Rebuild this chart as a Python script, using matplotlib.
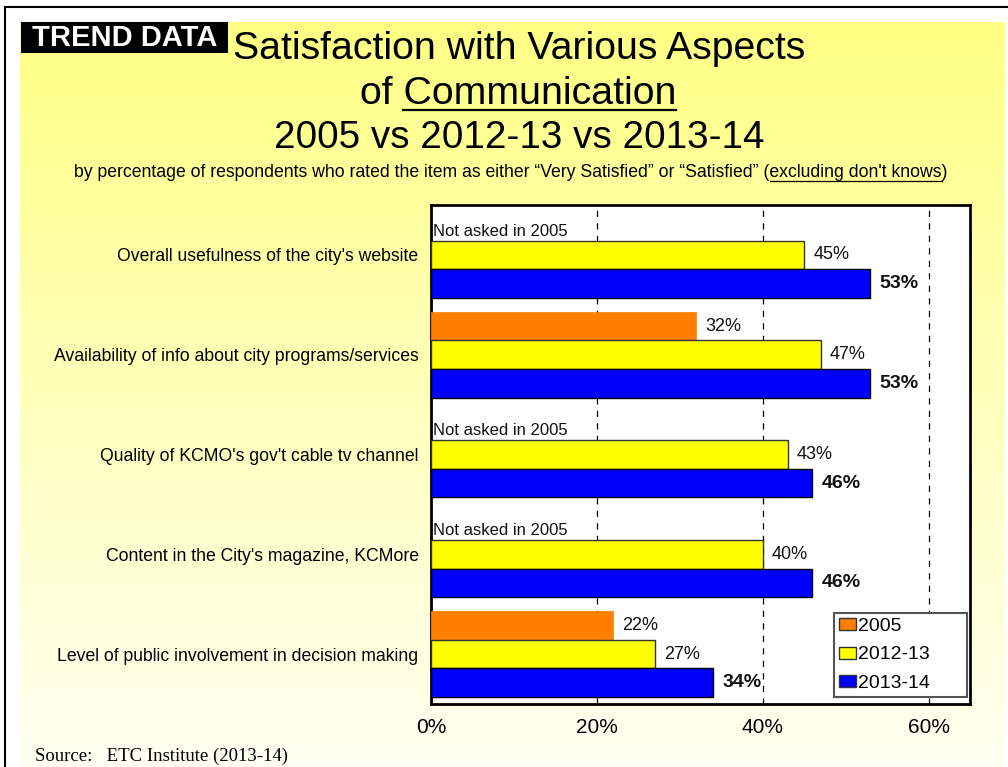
import numpy as np
import matplotlib
matplotlib.use("Agg")
import matplotlib.pyplot as plt
from matplotlib.patches import Patch, Rectangle
from matplotlib.lines import Line2D

plt.rcParams['font.family'] = ['Liberation Sans', 'DejaVu Sans']

categories = [
    "Overall usefulness of the city's website",
    "Availability of info about city programs/services",
    "Quality of KCMO's gov't cable tv channel",
    "Content in the City's magazine, KCMore",
    "Level of public involvement in decision making",
]
vals_2005 = [np.nan, 32, np.nan, np.nan, 22]
vals_2012_13 = [45, 47, 43, 40, 27]
vals_2013_14 = [53, 53, 46, 46, 34]
series_names = ["2005", "2012-13", "2013-14"]
tick_vals = [0, 20, 40, 60]

W, H = 1008, 767
fig = plt.figure(figsize=(W / 100, H / 100), dpi=100)
fig.patch.set_facecolor('white')


def fx(x):
    return x / W


def fy(y):
    return 1 - y / H


# yellow backdrop, fading toward the bottom
bg = fig.add_axes([fx(20), 0, fx(1005) - fx(20), fy(22)])
grad = np.linspace(0, 1, 256).reshape(-1, 1)
top = np.array([1.0, 1.0, 0.52])
bottom = np.array([1.0, 1.0, 0.95])
img = top + (bottom - top) * grad[..., None]
bg.imshow(img.reshape(256, 1, 3), aspect='auto', extent=[0, 1, 0, 1])
bg.set_axis_off()

# slide frame
fig.add_artist(Line2D([fx(5), 1], [fy(7), fy(7)], color='black', lw=1.5))
fig.add_artist(Line2D([fx(5), fx(5)], [fy(7), 0], color='black', lw=1.5))

ax = fig.add_axes([fx(431), fy(704), fx(970) - fx(431), fy(205) - fy(704)])
ax.set_facecolor('white')

y = np.arange(len(categories))
h = 0.287
ax.barh(y - h, vals_2005, height=h, color='#FF8000', edgecolor='#FF8000',
        linewidth=0.5, zorder=3, label=series_names[0])
ax.barh(y, vals_2012_13, height=h, color='#FFFF00', edgecolor='#333333',
        linewidth=1, zorder=3, label=series_names[1])
ax.barh(y + h, vals_2013_14, height=h, color='#0000FF', edgecolor='black',
        linewidth=1, zorder=3, label=series_names[2])

for i in range(len(categories)):
    v = vals_2005[i]
    if np.isnan(v):
        ax.text(0.3, y[i] - h / 2 - 0.02, "Not asked in 2005", fontsize=12,
                ha='left', va='bottom', color='#111111', zorder=4)
    else:
        ax.text(v + 1.1, y[i] - h, f"{v:.0f}%", fontsize=13,
                ha='left', va='center', color='#111111', zorder=4)
    ax.text(vals_2012_13[i] + 1.1, y[i], f"{vals_2012_13[i]}%", fontsize=13,
            ha='left', va='center', color='#111111', zorder=4)
    ax.text(vals_2013_14[i] + 1.1, y[i] + h, f"{vals_2013_14[i]}%", fontsize=14,
            ha='left', va='center', fontweight='bold', color='#111111', zorder=4)

ax.set_xlim(0, 65)
ax.set_ylim(len(categories) - 0.5, -0.5)
ax.set_xticks(tick_vals)
ax.set_xticklabels([f"{t}%" for t in tick_vals], fontsize=15)
ax.set_yticks(y)
ax.set_yticklabels(categories, fontsize=12.7)
ax.tick_params(axis='x', length=0, pad=10)
ax.tick_params(axis='y', length=0, pad=9)
ax.set_axisbelow(True)
ax.xaxis.grid(True, color='black', linewidth=0.9, linestyle=(0, (5, 5)))
for s in ax.spines.values():
    s.set_linewidth(2)
    s.set_color('black')

handles = [Patch(facecolor='#FF8000', edgecolor='#333333', linewidth=1),
           Patch(facecolor='#FFFF00', edgecolor='#333333', linewidth=1),
           Patch(facecolor='#0000FF', edgecolor='#333333', linewidth=1)]
leg = ax.legend(handles, series_names, loc='lower left',
                bbox_to_anchor=(0.7477, 0.014, 0.2468, 0.17), mode='expand',
                fontsize=14, frameon=True, fancybox=False, framealpha=1,
                edgecolor='#555555', handlelength=0.88, handleheight=0.57,
                handletextpad=0.1, labelspacing=0.6, borderpad=0.25,
                borderaxespad=0)
leg.get_frame().set_linewidth(1.5)
leg.set_zorder(5)

# heading
fig.add_artist(Rectangle((fx(21), fy(53)), fx(228) - fx(21), fy(22) - fy(53),
                         facecolor='black', edgecolor='none'))
fig.text(fx(124.5), fy(38), "TREND DATA", fontsize=21, fontweight='bold',
         color='white', ha='center', va='center')
fig.text(fx(519.5), fy(59), "Satisfaction with Various Aspects", fontsize=28.3,
         ha='center', va='baseline')
line2 = fig.text(fx(518), fy(104), "of Communication", fontsize=28.3,
                 ha='center', va='baseline')
fig.text(fx(519), fy(148), "2005 vs 2012-13 vs 2013-14", fontsize=27.8,
         ha='center', va='baseline')
sub = fig.text(fx(511), fy(177),
               "by percentage of respondents who rated the item as either "
               "\u201cVery Satisfied\u201d or \u201cSatisfied\u201d "
               "(excluding don't knows)",
               fontsize=12.7, ha='center', va='baseline')
fig.text(fx(35), fy(761), "Source:   ETC Institute (2013-14)", fontsize=13.5,
         family=['Liberation Serif', 'DejaVu Serif'], ha='left', va='baseline')

# underline the emphasised words
renderer = fig.canvas.get_renderer()


def part_width(s, size):
    t = fig.text(0, 0, s, fontsize=size)
    w = t.get_window_extent(renderer).width
    t.remove()
    return w


bb = line2.get_window_extent(renderer)
w_comm = part_width("Communication", 28.3)
fig.add_artist(Line2D([(bb.x1 - w_comm) / W, bb.x1 / W], [fy(110), fy(110)],
                      color='black', lw=1.6))

bb = sub.get_window_extent(renderer)
w_ex = part_width("excluding don't knows)", 12.7)
w_par = part_width(")", 12.7)
fig.add_artist(Line2D([(bb.x1 - w_ex) / W, (bb.x1 - w_par) / W],
                      [fy(180.5), fy(180.5)], color='black', lw=0.9))

fig.savefig("out.png", dpi=100)
